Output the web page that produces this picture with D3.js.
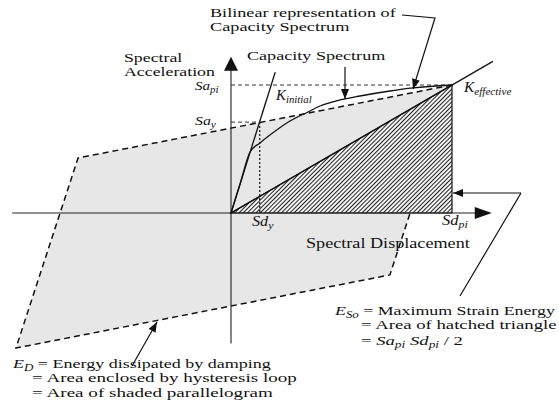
<!DOCTYPE html>
<html>
<head>
<meta charset="utf-8">
<script src="https://cdn.jsdelivr.net/npm/d3@7"></script>
<style>
  body { margin: 0; background: #fff; }
  svg { display: block; }
  text { font-family: "Liberation Serif", "Times New Roman", serif; fill: #111; }
</style>
</head>
<body>
<div id="chart"></div>
<script>
// performance point and yield point (Sd_pi = Sa_pi = 1)
const sdPi = 1.0, saPi = 1.0;
const sdY = 0.13, saY = 0.71;

// capacity spectrum curve
const capSd = [0, 0.043, 0.086, 0.131, 0.176, 0.267, 0.348, 0.403, 0.493, 0.584, 0.719, 0.824, 1.0];
const capSa = [0, 0.238, 0.477, 0.547, 0.609, 0.719, 0.789, 0.836, 0.883, 0.914, 0.953, 0.977, 1.0];

// hysteresis loop (parallelogram) corners
const loopSd = [1.0, -0.692, -0.973, 0.719];
const loopSa = [1.0, 0.430, -1.055, -0.484];

// stiffness lines: end points
const kInitEnd = [0.2, 1.1];
const kEffEnd = [1.185, 1.185];

// axis extents
const xExtent = [-0.99, 1.18];
const yExtent = [-1.02, 1.22];

(function(){
    const width = 559;
    const height = 408;

    const svg = d3.select("#chart")
        .append("svg")
        .attr("width", width)
        .attr("height", height);

    const x = d3.scaleLinear().domain([0, 1]).range([231, 452]);
    const y = d3.scaleLinear().domain([0, 1]).range([213, 85]);

    const defs = svg.append("defs");

    // hatching for the strain energy triangle
    const pat = defs.append("pattern")
        .attr("id", "hatch")
        .attr("patternUnits", "userSpaceOnUse")
        .attr("width", 6)
        .attr("height", 3)
        .attr("patternTransform", "rotate(-45)");
    pat.append("rect").attr("width", 6).attr("height", 3).attr("fill", "#fff");
    pat.append("line")
        .attr("x1", 0).attr("y1", 1.5).attr("x2", 6).attr("y2", 1.5)
        .attr("stroke", "#222").attr("stroke-width", 1.1);

    defs.append("marker")
        .attr("id", "arrow")
        .attr("viewBox", "0 0 10 8")
        .attr("refX", 10)
        .attr("refY", 4)
        .attr("markerWidth", 11)
        .attr("markerHeight", 8)
        .attr("markerUnits", "userSpaceOnUse")
        .attr("orient", "auto")
        .append("path")
        .attr("d", "M0,0 L10,4 L0,8 Z")
        .attr("fill", "#111");

    const loop = loopSd.map((d, i) => [x(d), y(loopSa[i])]);

    // shaded parallelogram
    svg.append("path")
        .attr("d", "M" + loop.join("L") + "Z")
        .attr("fill", "#e7e7e7")
        .attr("stroke", "none");

    // dashed loop outline
    svg.append("path")
        .attr("d", "M" + loop.join("L") + "Z")
        .attr("fill", "none")
        .attr("stroke", "#111")
        .attr("stroke-width", 1.5)
        .attr("stroke-dasharray", "6,4");

    // hatched triangle
    const tri = [[x(0), y(0)], [x(sdPi), y(saPi)], [x(sdPi), y(0)]];
    svg.append("path")
        .attr("d", "M" + tri.join("L") + "Z")
        .attr("fill", "url(#hatch)")
        .attr("stroke", "#111")
        .attr("stroke-width", 1.2);

    // axes
    const ax = svg.append("g").attr("stroke", "#222").attr("stroke-width", 1.1);
    ax.append("line")
        .attr("x1", x(xExtent[0])).attr("y1", y(0))
        .attr("x2", x(xExtent[1]) - 14).attr("y2", y(0));
    ax.append("line")
        .attr("x1", x(0)).attr("y1", y(yExtent[0]))
        .attr("x2", x(0)).attr("y2", y(yExtent[1]) + 12);
    svg.append("path")
        .attr("d", `M${x(xExtent[1])},${y(0)} L${x(xExtent[1]) - 17},${y(0) - 6} L${x(xExtent[1]) - 17},${y(0) + 6} Z`)
        .attr("fill", "#111");
    svg.append("path")
        .attr("d", `M${x(0)},${y(yExtent[1])} L${x(0) - 7},${y(yExtent[1]) + 14} L${x(0) + 7},${y(yExtent[1]) + 14} Z`)
        .attr("fill", "#111");

    // dashed reference lines
    svg.append("line")
        .attr("x1", x(0)).attr("y1", y(saPi))
        .attr("x2", x(sdPi)).attr("y2", y(saPi))
        .attr("stroke", "#333").attr("stroke-width", 1)
        .attr("stroke-dasharray", "4,3");
    svg.append("line")
        .attr("x1", x(0)).attr("y1", y(saY))
        .attr("x2", x(sdY)).attr("y2", y(saY))
        .attr("stroke", "#333").attr("stroke-width", 1)
        .attr("stroke-dasharray", "4,3");
    svg.append("line")
        .attr("x1", x(sdY)).attr("y1", y(saY))
        .attr("x2", x(sdY)).attr("y2", y(0))
        .attr("stroke", "#111").attr("stroke-width", 1.2)
        .attr("stroke-dasharray", "2,2");

    // stiffness lines
    svg.append("line")
        .attr("x1", x(0)).attr("y1", y(0))
        .attr("x2", x(kInitEnd[0])).attr("y2", y(kInitEnd[1]))
        .attr("stroke", "#111").attr("stroke-width", 1.3);
    svg.append("line")
        .attr("x1", x(0)).attr("y1", y(0))
        .attr("x2", x(kEffEnd[0])).attr("y2", y(kEffEnd[1]))
        .attr("stroke", "#111").attr("stroke-width", 1.3);

    // capacity spectrum
    const line = d3.line()
        .x(d => x(d[0]))
        .y(d => y(d[1]))
        .curve(d3.curveMonotoneX);
    svg.append("path")
        .attr("d", line(capSd.map((d, i) => [d, capSa[i]])))
        .attr("fill", "none")
        .attr("stroke", "#111")
        .attr("stroke-width", 1.3);

    // text helper: parts are [text, style] with style "", "i" (italic) or "s" (italic subscript)
    function label(px, py, parts, size, w) {
        const t = svg.append("text")
            .attr("x", px).attr("y", py)
            .style("font-size", size + "px");
        let shift = 0;
        parts.forEach(p => {
            const s = t.append("tspan").text(p[0]);
            const sub = p[1] === "s";
            const target = sub ? size * 0.25 : 0;
            if (target !== shift) { s.attr("dy", target - shift); shift = target; }
            if (p[1] === "i" || sub) s.style("font-style", "italic");
            if (sub) s.style("font-size", (size * 0.72) + "px");
        });
        if (w) {
            const bw = t.node().getBBox().width;
            const k = w / bw;
            t.attr("transform", `translate(${px},0) scale(${k},1) translate(${-px},0)`);
        }
        return t;
    }

    label(210, 17, [["Bilinear representation of", ""]], 12.5, 187);
    label(210, 31, [["Capacity Spectrum", ""]], 12.5, 140);
    label(247, 60, [["Capacity Spectrum", ""]], 13.5, 139);
    label(124, 62, [["Spectral", ""]], 12.5, 59);
    label(124, 76, [["Acceleration", ""]], 12.5, 92);
    label(195, 90, [["Sa", "i"], ["pi", "s"]], 13, 24);
    label(195, 125, [["Sa", "i"], ["y", "s"]], 13, 22);
    label(276, 100, [["K", "i"], ["initial", "s"]], 14, 37);
    label(464, 92, [["K", "i"], ["effective", "s"]], 14, 49);
    label(252, 226, [["Sd", "i"], ["y", "s"]], 14, 22);
    label(442, 225, [["Sd", "i"], ["pi", "s"]], 14, 26);
    label(306, 248, [["Spectral Displacement", ""]], 14, 164);

    label(335, 315, [["E", "i"], ["So", "s"], [" = Maximum Strain Energy", ""]], 13, 222);
    label(361, 329, [["= Area of hatched triangle", ""]], 13, 196);
    label(361, 345, [["= ", ""], ["Sa", "i"], ["pi", "s"], [" ", ""], ["Sd", "i"], ["pi", "s"], [" / 2", ""]], 13, 102);

    label(13, 368, [["E", "i"], ["D", "s"], [" = Energy dissipated by damping", ""]], 13, 260);
    label(32, 382, [["= Area enclosed by hysteresis loop", ""]], 13, 265);
    label(32, 397, [["= Area of shaded parallelogram", ""]], 13, 241);

    // annotation leaders
    const ann = svg.append("g")
        .attr("fill", "none")
        .attr("stroke", "#111")
        .attr("stroke-width", 1.2);
    ann.append("path")
        .attr("d", "M402,15 L435,18 L413,89")
        .attr("marker-end", "url(#arrow)");
    ann.append("path")
        .attr("d", "M345,67 L345,99")
        .attr("marker-end", "url(#arrow)");
    ann.append("path")
        .attr("d", `M521,193 L${x(sdPi) + 1},193`)
        .attr("marker-end", "url(#arrow)");
    ann.append("path")
        .attr("d", "M521,193 L460,296");
    ann.append("path")
        .attr("d", "M132,366 L157,322")
        .attr("marker-end", "url(#arrow)");
})();
</script>
</body>
</html>
